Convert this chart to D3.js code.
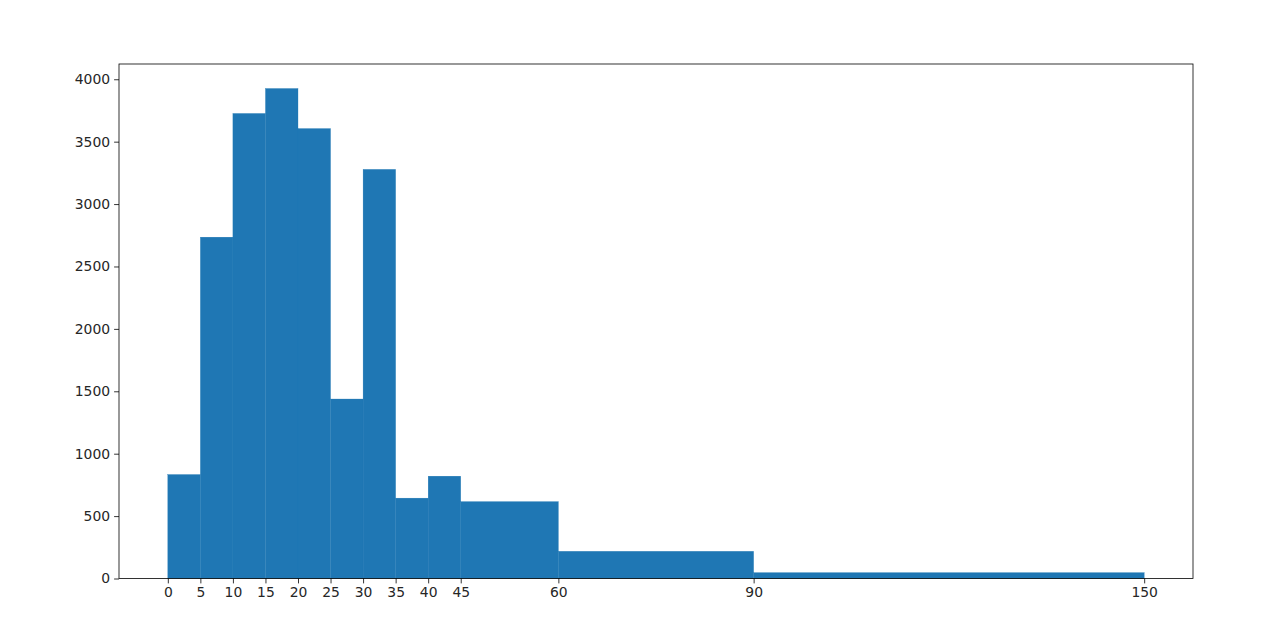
<!DOCTYPE html>
<html>
<head>
<meta charset="utf-8">
<script src="https://cdn.jsdelivr.net/npm/d3@7"></script>
<style>
  html, body { margin: 0; padding: 0; background: #ffffff; }
  svg { display: block; }
  .tick text { font-family: "DejaVu Sans", sans-serif; font-size: 13.9px; fill: #262626; }
</style>
</head>
<body>
<svg id="chart" width="1286" height="626"></svg>
<script>
// Data
const binEdges = [0, 5, 10, 15, 20, 25, 30, 35, 40, 45, 60, 90, 150];
const counts = [833, 2735, 3726, 3926, 3605, 1438, 3278, 644, 820, 616, 218, 47];
const xTicks = [0, 5, 10, 15, 20, 25, 30, 35, 40, 45, 60, 90, 150];
const yTicks = [0, 500, 1000, 1500, 2000, 2500, 3000, 3500, 4000];

const bins = counts.map((c, i) => ({ x0: binEdges[i], x1: binEdges[i + 1], count: c }));

const svg = d3.select("#chart");
const mLeft = 119, mRight = 1193, mTop = 64, mBottom = 578.5;

const xMin = binEdges[0], xMax = binEdges[binEdges.length - 1];
const xPad = (xMax - xMin) * 0.05;
const x = d3.scaleLinear().domain([xMin - xPad, xMax + xPad]).range([mLeft, mRight]);
const yMax = d3.max(counts) * 1.05;
const y = d3.scaleLinear().domain([0, yMax]).range([mBottom, mTop]);

svg.append("g")
  .selectAll("rect")
  .data(bins)
  .join("rect")
  .attr("x", d => x(d.x0))
  .attr("y", d => y(d.count))
  .attr("width", d => x(d.x1) - x(d.x0))
  .attr("height", d => y(0) - y(d.count))
  .attr("fill", "#1f77b4")
  .attr("stroke", "#1f77b4")
  .attr("stroke-width", 0.3);

const xAxis = d3.axisBottom(x).tickValues(xTicks).tickFormat(d3.format("d")).tickSize(4.9).tickPadding(4);
const yAxis = d3.axisLeft(y).tickValues(yTicks).tickFormat(d3.format("d")).tickSize(4.9).tickPadding(4);

const gx = svg.append("g").attr("transform", `translate(0,${mBottom})`).call(xAxis);
const gy = svg.append("g").attr("transform", `translate(${mLeft},0)`).call(yAxis);
[gx, gy].forEach(g => {
  g.select(".domain").remove();
  g.selectAll(".tick line").attr("stroke", "#000").attr("stroke-width", 0.8);
});

// frame
svg.append("rect")
  .attr("x", mLeft).attr("y", mTop)
  .attr("width", mRight - mLeft).attr("height", mBottom - mTop)
  .attr("fill", "none").attr("stroke", "#000").attr("stroke-width", 0.8);
</script>
</body>
</html>
